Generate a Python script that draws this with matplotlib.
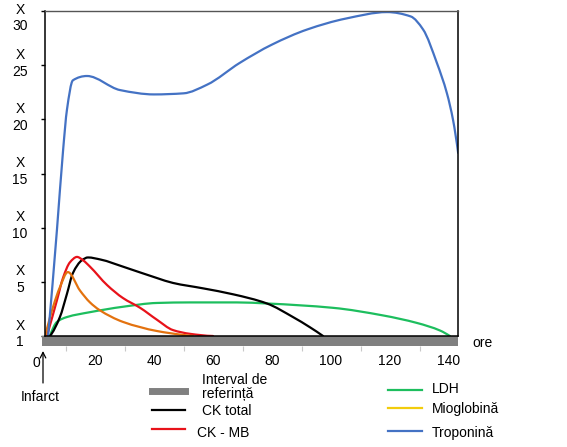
import numpy as np
import matplotlib
matplotlib.use('Agg')
import matplotlib.pyplot as plt
from matplotlib.path import Path
from matplotlib.patches import PathPatch, Rectangle
from matplotlib.lines import Line2D

plt.rcParams['font.family'] = ['Liberation Sans', 'DejaVu Sans']
plt.rcParams['font.size'] = 10

# ---------------- data ----------------
tick_x = [20, 40, 60, 80, 100, 120, 140]
minor_x = [10, 30, 50, 70, 90, 110, 130]
tick_y = [0, 5, 10, 15, 20, 25, 30]
tick_y_labels = ['X\n1', 'X\n5', 'X\n10', 'X\n15', 'X\n20', 'X\n25', 'X\n30']

ldh_x = [4.7, 7.1, 10.5, 18.3, 29.5, 41.0, 52.2, 68.1, 78.3, 100.7, 117.6, 129.2, 137.0, 140.3]
ldh_y = [0.0, 1.3, 1.75, 2.2, 2.7, 3.05, 3.1, 3.1, 3.0, 2.6, 1.9, 1.2, 0.5, 0.0]

ck_x = [4.7, 8.1, 10.5, 12.5, 15.6, 17.6, 22.0, 29.5, 41.0, 46.4, 56.6, 66.8, 78.3, 87.1, 92.9, 97.3]
ck_y = [0.0, 1.75, 3.9, 5.8, 7.0, 7.25, 7.05, 6.4, 5.35, 4.9, 4.4, 3.85, 3.0, 1.75, 0.8, 0.0]

ckmb_x = [3.7, 7.1, 9.2, 11.5, 13.9, 15.9, 18.3, 24.1, 29.5, 35.3, 41.0, 46.4, 52.2, 60.0]
ckmb_y = [0.0, 3.3, 5.4, 6.8, 7.3, 7.0, 6.4, 4.7, 3.5, 2.6, 1.5, 0.55, 0.2, 0.0]

miog_x = [3.1, 5.8, 8.1, 10.8, 14.9, 18.3, 21.5, 29.5, 41.0, 49.8, 53.2]
miog_y = [0.0, 2.7, 4.5, 5.9, 4.2, 3.1, 2.4, 1.3, 0.46, 0.1, 0.0]

trop_x = [4.1, 7.1, 9.2, 10.5, 12.5, 17.3, 28.5, 40.0, 50.0, 58.0, 69.0, 80.0, 92.0, 105.0, 119.0, 127.0, 131.2, 135.9, 139.3, 141.4, 143.1]
trop_y = [0.0, 9.8, 17.2, 20.9, 23.6, 24.0, 22.7, 22.3, 22.4, 23.2, 25.2, 26.9, 28.3, 29.3, 29.9, 29.5, 28.3, 25.2, 22.4, 19.9, 16.9]

legend_left = ['Interval de\nreferință', 'CK total', 'CK - MB']
legend_right = ['LDH', 'Mioglobină', 'Troponină']

# ---------------- styles ----------------
C_GRAY = '#808080'
C_BLACK = '#000000'
C_RED = '#E8121A'
C_ORANGE = '#E3720F'
C_YELLOW = '#F2CC0C'
C_GREEN = '#1DBE5E'
C_BLUE = '#4472C4'

W, H = 567, 447
fig = plt.figure(figsize=(W / 100, H / 100), dpi=100)
ax = fig.add_axes([45 / W, 1 - 336 / H, 413 / W, 325 / H])

x0 = (45 - 36) / 2.95
x1 = (458 - 36) / 2.95
ax.set_xlim(x0, x1)
ax.set_ylim(0, 30)


def _end_slope(h0, h1, d0, d1):
    m = ((2 * h0 + h1) * d0 - h0 * d1) / (h0 + h1)
    if np.sign(m) != np.sign(d0):
        m = 0.0
    elif np.sign(d0) != np.sign(d1) and abs(m) > 3 * abs(d0):
        m = 3 * d0
    return m


def smooth_path(xs, ys):
    """Shape-preserving cubic (PCHIP) curve through the points, as Bezier segments."""
    x = np.asarray(xs, float)
    y = np.asarray(ys, float)
    h = np.diff(x)
    d = np.diff(y) / h
    n = len(x)
    m = np.zeros(n)
    for k in range(1, n - 1):
        if d[k - 1] * d[k] > 0:
            w1 = 2 * h[k] + h[k - 1]
            w2 = h[k] + 2 * h[k - 1]
            m[k] = (w1 + w2) / (w1 / d[k - 1] + w2 / d[k])
    m[0] = _end_slope(h[0], h[1], d[0], d[1])
    m[-1] = _end_slope(h[-1], h[-2], d[-1], d[-2])
    verts = [(x[0], y[0])]
    codes = [Path.MOVETO]
    for i in range(n - 1):
        verts += [(x[i] + h[i] / 3, y[i] + m[i] * h[i] / 3),
                  (x[i + 1] - h[i] / 3, y[i + 1] - m[i + 1] * h[i] / 3),
                  (x[i + 1], y[i + 1])]
        codes += [Path.CURVE4] * 3
    return Path(verts, codes)


for xs, ys, col in [(ldh_x, ldh_y, C_GREEN), (ck_x, ck_y, C_BLACK),
                    (ckmb_x, ckmb_y, C_RED), (miog_x, miog_y, C_ORANGE),
                    (trop_x, trop_y, C_BLUE)]:
    ax.add_patch(PathPatch(smooth_path(xs, ys), fill=False, edgecolor=col,
                           linewidth=1.6, capstyle='round', joinstyle='round', zorder=2))

# spines
for s in ['left', 'bottom', 'right']:
    ax.spines[s].set_color('black')
    ax.spines[s].set_linewidth(1.1)
ax.spines['top'].set_color('#555555')
ax.spines['top'].set_linewidth(1.0)

# reference band under x axis
ax.add_patch(Rectangle((-3 / 413, -10 / 325), 416 / 413, 10 / 325, transform=ax.transAxes,
                       facecolor=C_GRAY, edgecolor='none', clip_on=False, zorder=2.4))

# x ticks
ax.set_xticks(tick_x)
ax.set_xticklabels([str(v) for v in tick_x])
ax.tick_params(axis='x', which='major', direction='out', length=7.2, width=1.3,
               color='black', pad=6.0, labelsize=10)
ax.annotate('0', xy=(0, 0), xycoords=('data', 'axes fraction'),
            xytext=(0, -27), textcoords='offset pixels', ha='center', va='center',
            fontsize=10, annotation_clip=False)

sec = ax.secondary_xaxis(-10 / 325)
sec.set_xticks(minor_x)
sec.tick_params(axis='x', direction='out', length=3.8, width=0.8, color='#c8c8c8',
                labelbottom=False)
sec.spines['bottom'].set_visible(False)

# y ticks
ax.set_yticks(tick_y)
ax.set_yticklabels([])
ax.tick_params(axis='y', direction='out', length=3, width=1.0, color='black')
for v, lab in zip(tick_y, tick_y_labels):
    off = -7 if v == 30 else 2
    ax.annotate(lab, xy=(-25 / 413, v), xycoords=('axes fraction', 'data'),
                xytext=(0, off), textcoords='offset pixels',
                ha='center', va='center', fontsize=10, linespacing=1.25,
                annotation_clip=False)

# 'ore' label
fig.text(472 / W, 1 - 343 / H, 'ore', ha='left', va='center', fontsize=10)

# Infarct arrow
fig.text(40 / W, 1 - 397 / H, 'Infarct', ha='center', va='center', fontsize=10)
ax.annotate('', xy=(43, H - 351), xycoords='figure pixels',
            xytext=(43, H - 383), textcoords='figure pixels',
            arrowprops=dict(arrowstyle='->', color='black', lw=0.9, shrinkA=0, shrinkB=0),
            annotation_clip=False)


def fx(px):
    return px / W


def fy(py):
    return 1 - py / H


# legend (manual)
left_handles = [(C_GRAY, 5.0, 391), (C_BLACK, 1.6, 410), (C_RED, 1.6, 429)]
left_text = [(202, 387), (202, 411), (197, 433)]
for (col, lw, py), lab, (tx, ty) in zip(left_handles, legend_left, left_text):
    fig.add_artist(Line2D([fx(152), fx(185)], [fy(py), fy(py)], color=col, lw=lw,
                          transform=fig.transFigure))
    fig.text(fx(tx), fy(ty), lab, ha='left', va='center', fontsize=10, linespacing=1.05)

right_handles = [(C_GREEN, 390), (C_YELLOW, 408), (C_BLUE, 431)]
right_text = [389, 409, 433]
for (col, py), lab, ty in zip(right_handles, legend_right, right_text):
    fig.add_artist(Line2D([fx(388), fx(422)], [fy(py), fy(py)], color=col, lw=1.6,
                          transform=fig.transFigure))
    fig.text(fx(432), fy(ty), lab, ha='left', va='center', fontsize=10)

fig.savefig('out.png', dpi=100)
